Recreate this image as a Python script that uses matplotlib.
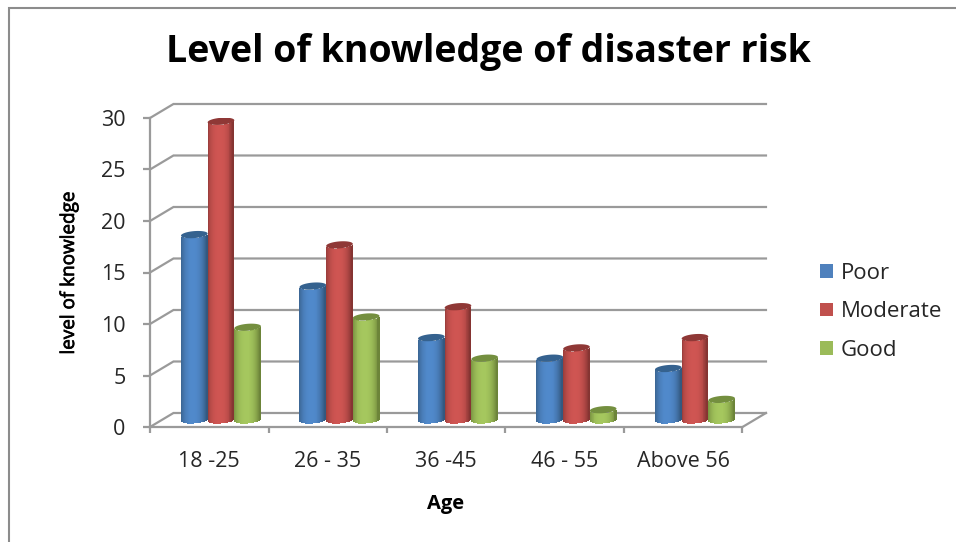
import numpy as np
import matplotlib
matplotlib.use('Agg')
import matplotlib.pyplot as plt
import matplotlib.patheffects as pe
from matplotlib.lines import Line2D
from matplotlib.patches import Patch

categories = ['18 -25', '26 - 35', '36 -45', '46 - 55', 'Above 56']
poor = [18, 13, 8, 6, 5]
moderate = [29, 17, 11, 7, 8]
good = [9, 10, 6, 1, 2]
series_names = ['Poor', 'Moderate', 'Good']
y_ticks = [0, 5, 10, 15, 20, 25, 30]

W, H = 956, 542
GRAY = '#9A9A9A'
TEXT = '#262626'
plt.rcParams['font.family'] = ['Open Sans', 'DejaVu Sans']

# colours: legend/base, edge of the cylinder, lit part, top cap
colors = [
    ('#4F81BD', '#33587F', '#5089CB', '#35628F'),
    ('#C0504D', '#853432', '#CF5552', '#8F3836'),
    ('#9BBB59', '#6C8439', '#A5C75E', '#748F3F'),
]

# depth of the fake 3d floor, in data units
DX = 0.198
DY = 1.36
BAR_W = 0.225
RY = 0.34
TILT = 0.1


def cylinder(ax, xc, v, cols):
    base, edge, lit, cap = cols
    edge_c = np.array(matplotlib.colors.to_rgb(edge))
    lit_c = np.array(matplotlib.colors.to_rgb(lit))
    n = 28
    t = np.linspace(-1, 1, n + 1)
    t = (t[:-1] + t[1:]) / 2
    low = DY / 2 + TILT * t - RY * np.sqrt(1 - t ** 2)
    for i in range(n):
        # brightest slightly left of the middle
        s = np.clip(1 - np.abs(t[i] + 0.1) ** 2.5, 0, 1)
        col = edge_c + (lit_c - edge_c) * s
        ax.bar(xc + t[i] * BAR_W / 2, v, width=BAR_W / n * 1.2, bottom=low[i],
               color=col, linewidth=0, zorder=3)
    a = np.linspace(0, 2 * np.pi, 60)
    ax.fill(xc + np.cos(a) * BAR_W / 2,
            v + DY / 2 + TILT * np.cos(a) + RY * np.sin(a),
            color=cap, linewidth=0, zorder=4)


fig = plt.figure(figsize=(W / 100, H / 100), dpi=100)
ax = fig.add_axes([150 / W, (H - 427) / H, 592.5 / W, 309 / H])
ax.set_xlim(0, 5)
ax.set_ylim(0, 30)

for s in ['top', 'right']:
    ax.spines[s].set_visible(False)
for s in ['left', 'bottom']:
    ax.spines[s].set_color(GRAY)
    ax.spines[s].set_linewidth(1.6)
ax.spines['left'].set_zorder(2)

ax.set_yticks(y_ticks)
ax.set_xticks(range(6))
ax.set_xticklabels([])
ax.set_xticks(np.arange(len(categories)) + 0.5, categories, minor=True)
ax.tick_params(axis='y', length=5, width=1.6, color=GRAY, pad=12.5,
               labelsize=15.5, labelcolor=TEXT)
ax.tick_params(axis='x', which='major', length=4.5, width=1.6, color=GRAY)
ax.tick_params(axis='x', which='minor', length=0, pad=17.5,
               labelsize=15.5, labelcolor=TEXT)

# back wall gridlines and the slanted bits going to the front axis
for v in y_ticks:
    ax.plot([0, DX, 5 + DX], [v, v + DY, v + DY], color=GRAY, lw=1.6,
            clip_on=False, zorder=1, solid_joinstyle='miter')
ax.plot([5, 5 + DX], [0, DY], color=GRAY, lw=1.6, clip_on=False, zorder=1)

values = [poor, moderate, good]
for j, vals in enumerate(values):
    for i, v in enumerate(vals):
        cylinder(ax, i + 0.5 + DX / 2 + (j - 1) * BAR_W, v, colors[j])

handles = [Patch(facecolor=c[0], edgecolor='none', label=n)
           for c, n in zip(colors, series_names)]
fig.legend(handles=handles, loc='upper left', frameon=False,
           bbox_to_anchor=(820 / W, 1 - 263 / H), borderpad=0, borderaxespad=0,
           fontsize=16, handlelength=0.58, handleheight=0.58,
           handletextpad=0.36, labelspacing=0.78, labelcolor=TEXT)

fig.text(488 / W, 1 - 52 / H, 'Level of knowledge of disaster risk',
         ha='center', va='center', fontsize=27, fontweight='bold',
         color='black')
fig.text(446 / W, 1 - 504 / H, 'Age', ha='center', va='center',
         fontsize=14.5, fontweight='bold', color='black')
ylab = fig.text(69 / W, 1 - 273 / H, 'level of knowledge', rotation=90, ha='center',
                va='center', fontsize=13.6, color='black')
ylab.set_path_effects([pe.withStroke(linewidth=0.5, foreground='black')])

# page frame of the original screenshot
fig.add_artist(Line2D([9 / W, 9 / W, 1], [0, 1 - 8 / H, 1 - 8 / H],
                      color='#8C8C8C', lw=1.5, solid_joinstyle='miter'))

fig.savefig('out.png', dpi=100)
